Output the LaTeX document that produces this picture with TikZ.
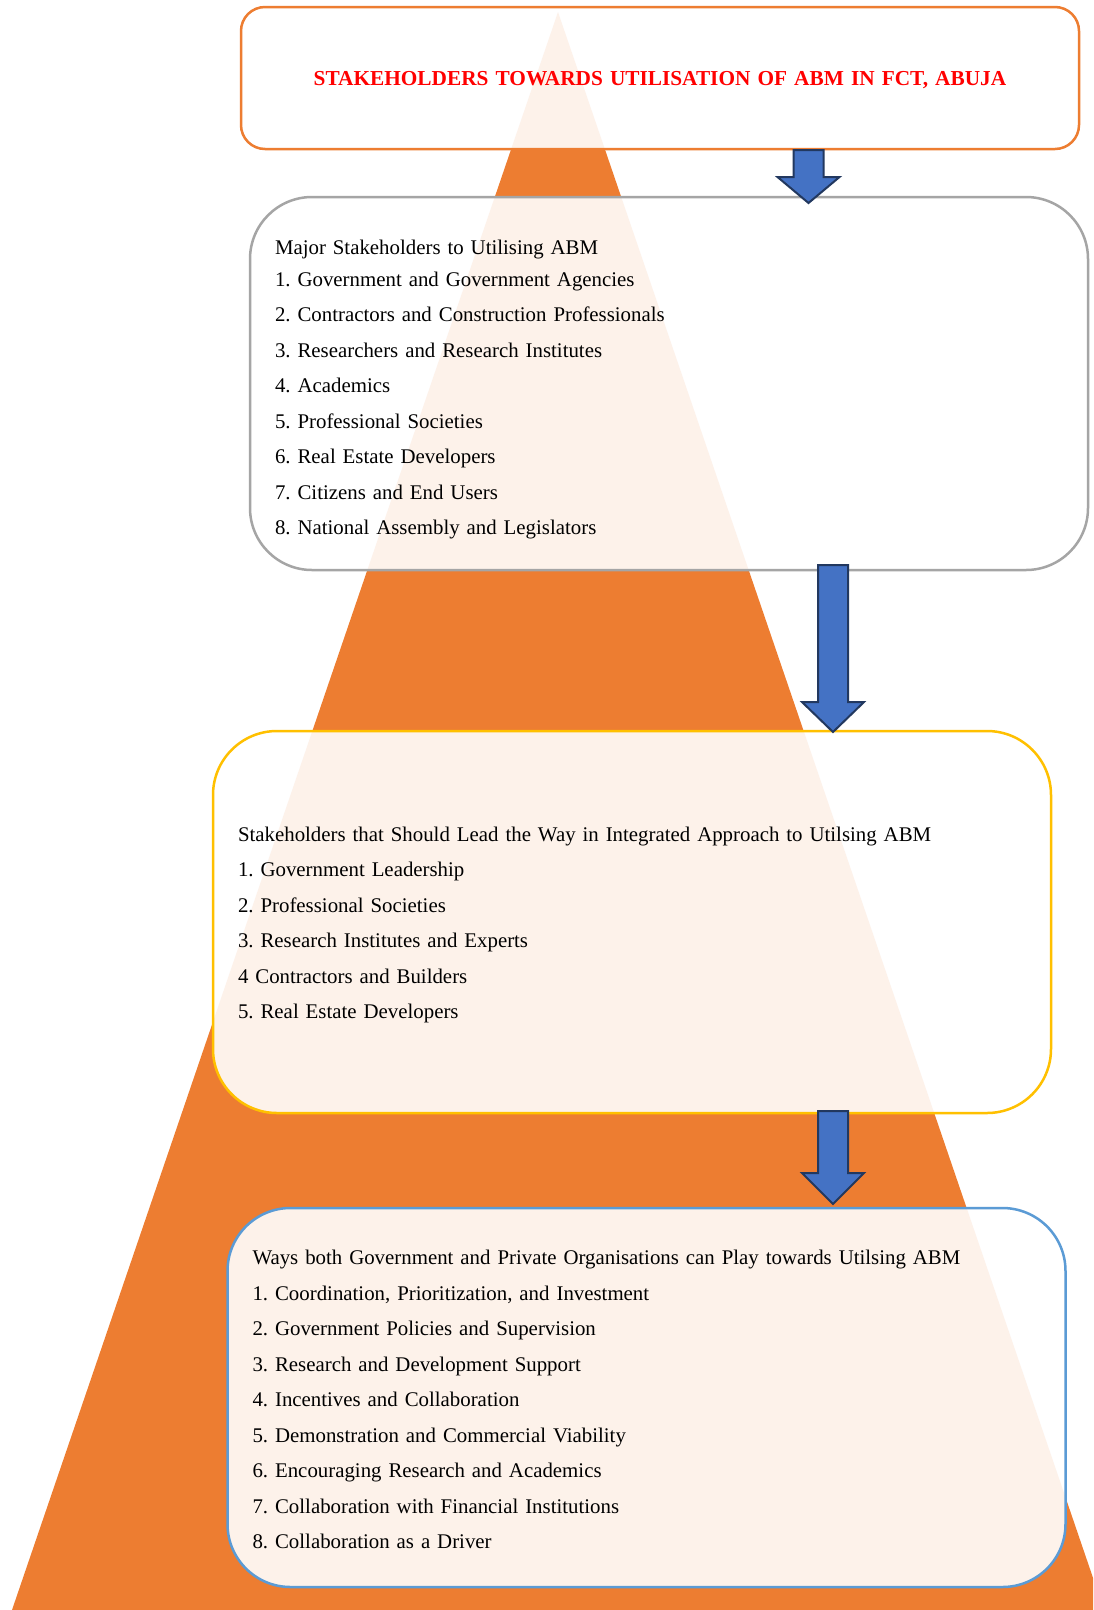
\documentclass[tikz,border=0pt]{standalone}
\usepackage{fontspec}
\setmainfont{Liberation Serif}
\usepackage{tikz}
\usetikzlibrary{calc, positioning}
\definecolor{pyramidorange}{HTML}{ED7D31}
\definecolor{boxgray}{HTML}{A5A5A5}
\definecolor{boxyellow}{HTML}{FFC000}
\definecolor{boxblue}{HTML}{5B9BD5}
\definecolor{arrowblue}{HTML}{4472C4}
\definecolor{arrowedge}{HTML}{22385F}
\newcommand{\boxfont}{\fontsize{20.85}{35.5}\selectfont\frenchspacing}
\newcommand{\headfont}{\fontsize{21.3}{35.5}\selectfont\bfseries}
% invisible strut that pushes the text of a panel down a little
\newcommand{\topstrut}[1]{\rule{0pt}{#1}}
% block arrow from #1 down to the tip #2, head of length #3
\newcommand{\blockdown}[3]{%
  \draw[blockarrow] ($(#1)+(-15,0)$) -- ($(#1)+(15,0)$) -- ($(#2)+(15,-#3)$)
    -- ($(#2)+(31,-#3)$) -- (#2) -- ($(#2)+(-31,-#3)$) -- ($(#2)+(-15,-#3)$) -- cycle;}

\begin{document}
\begin{tikzpicture}[x=1pt, y=-1pt,
    panel/.style={draw, line width=2.5pt, fill=white, fill opacity=0.9, text opacity=1,
      outer sep=0pt, inner xsep=25pt, inner ysep=0pt, text width=788pt, align=left,
      font=\boxfont},
    blockarrow/.style={fill=arrowblue, draw=arrowedge, line width=2pt, line join=miter}]
		\fill[white] (0,0) rectangle (1093,1610);
		\useasboundingbox (0,0) rectangle (1093,1610);
		
		\begin{scope}
		\clip (0,0) rectangle (1093,1610);
		\fill[pyramidorange] (558,12) -- (1104,1610) -- (12,1610) -- cycle;
		\end{scope}
		
		\node[panel, draw=pyramidorange, rounded corners=24pt, minimum height=142pt,
		  align=center, font=\headfont, text=red] (title) at (660,78)
		  {\topstrut{18.5pt}STAKEHOLDERS TOWARDS UTILISATION OF ABM IN FCT, ABUJA};
		
		\node[panel, draw=boxgray, rounded corners=62pt, minimum height=373pt] (major) at (669,383.5)
		  {\topstrut{26.5pt}Major Stakeholders to Utilising ABM\\[-4pt]
		   1. Government and Government Agencies\\
		   2. Contractors and Construction Professionals\\
		   3. Researchers and Research Institutes\\
		   4. Academics\\
		   5. Professional Societies\\
		   6. Real Estate Developers\\
		   7. Citizens and End Users\\
		   8. National Assembly and Legislators};
		
		\node[panel, draw=boxyellow, rounded corners=64pt, minimum height=382pt] (lead) at (632,922)
		  {\topstrut{20.5pt}Stakeholders that Should Lead the Way in Integrated Approach to Utilsing ABM\\
		   1. Government Leadership\\
		   2. Professional Societies\\
		   3. Research Institutes and Experts\\
		   4 Contractors and Builders\\
		   5. Real Estate Developers};
		
		\node[panel, draw=boxblue, rounded corners=63pt, minimum height=379pt] (ways) at (646.5,1397.5)
		  {\topstrut{18.5pt}Ways both Government and Private Organisations can Play towards Utilsing ABM\\
		   1. Coordination, Prioritization, and Investment\\
		   2. Government Policies and Supervision\\
		   3. Research and Development Support\\
		   4. Incentives and Collaboration\\
		   5. Demonstration and Commercial Viability\\
		   6. Encouraging Research and Academics\\
		   7. Collaboration with Financial Institutions\\
		   8. Collaboration as a Driver};
		
		% arrows between the panels
		\coordinate (ax1) at (808.5,0);
		\coordinate (ax2) at (833,0);
		\coordinate (a1top) at ($(title.south -| ax1)+(0,1)$);
		\coordinate (a1tip) at ($(major.north -| ax1)+(0,6)$);
		\coordinate (a2top) at ($(major.south -| ax2)+(0,-5)$);
		\coordinate (a2tip) at ($(lead.north -| ax2)+(0,1)$);
		\coordinate (a3top) at ($(lead.south -| ax2)+(0,-2)$);
		\coordinate (a3tip) at ($(ways.north -| ax2)+(0,-4)$);
		\blockdown{a1top}{a1tip}{26}
		\blockdown{a2top}{a2tip}{30}
		\blockdown{a3top}{a3tip}{31}
\end{tikzpicture}
\end{document}
